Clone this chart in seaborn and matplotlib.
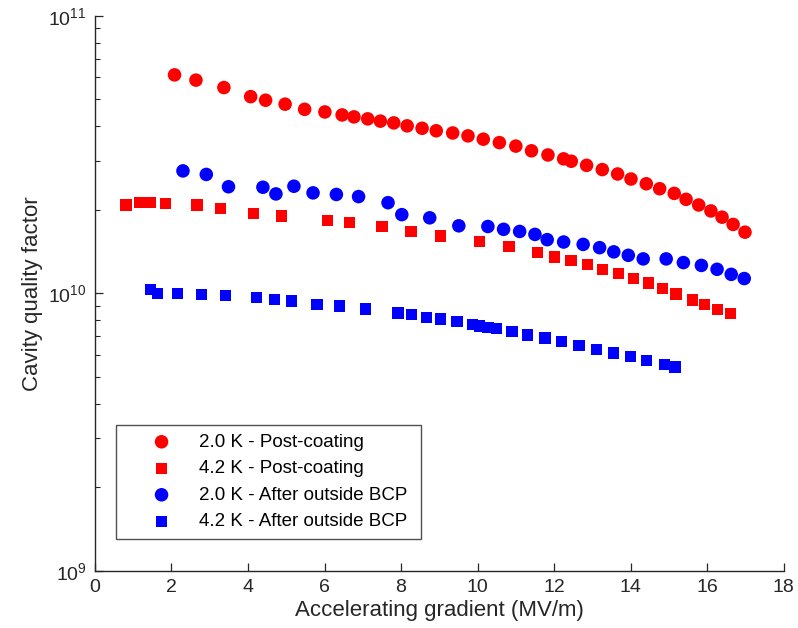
import numpy as np
import pandas as pd
import matplotlib
matplotlib.use('Agg')
import matplotlib.pyplot as plt
import seaborn as sns

# 2.0 K - Post-coating (red circles)
e_20_post = [2.08, 2.64, 3.37, 4.07, 4.46, 4.97, 5.48, 6.01, 6.46, 6.77, 7.13, 7.46, 7.81,
             8.16, 8.55, 8.92, 9.35, 9.75, 10.15, 10.57, 11.00, 11.41, 11.84, 12.25, 12.45,
             12.85, 13.26, 13.66, 14.01, 14.41, 14.76, 15.14, 15.45, 15.78, 16.10, 16.39,
             16.68, 16.99]
q_20_post = [6.12e10, 5.86e10, 5.51e10, 5.11e10, 4.96e10, 4.80e10, 4.60e10, 4.50e10, 4.39e10,
             4.32e10, 4.25e10, 4.17e10, 4.11e10, 4.01e10, 3.93e10, 3.85e10, 3.78e10, 3.69e10,
             3.59e10, 3.49e10, 3.39e10, 3.26e10, 3.15e10, 3.05e10, 2.99e10, 2.89e10, 2.79e10,
             2.69e10, 2.58e10, 2.48e10, 2.38e10, 2.29e10, 2.18e10, 2.08e10, 1.98e10, 1.88e10,
             1.77e10, 1.66e10]

# 4.2 K - Post-coating (red squares)
e_42_post = [0.81, 1.17, 1.45, 1.84, 2.67, 3.28, 4.14, 4.88, 6.08, 6.66, 7.50, 8.26, 9.03,
             10.05, 10.82, 11.57, 12.01, 12.44, 12.88, 13.27, 13.68, 14.07, 14.46, 14.84,
             15.19, 15.61, 15.94, 16.27, 16.61]
q_42_post = [2.08e10, 2.12e10, 2.12e10, 2.10e10, 2.08e10, 2.02e10, 1.94e10, 1.90e10, 1.83e10,
             1.80e10, 1.74e10, 1.67e10, 1.61e10, 1.54e10, 1.47e10, 1.40e10, 1.35e10, 1.31e10,
             1.27e10, 1.22e10, 1.18e10, 1.13e10, 1.09e10, 1.04e10, 9.94e9, 9.46e9, 9.10e9,
             8.75e9, 8.47e9]

# 2.0 K - After outside BCP (blue circles)
e_20_bcp = [2.30, 2.91, 3.49, 4.39, 4.73, 5.20, 5.70, 6.31, 6.89, 7.66, 8.02, 8.75, 9.51,
            10.27, 10.68, 11.10, 11.50, 11.82, 12.25, 12.76, 13.19, 13.56, 13.94, 14.33,
            14.93, 15.38, 15.85, 16.26, 16.63, 16.97]
q_20_bcp = [2.76e10, 2.68e10, 2.42e10, 2.41e10, 2.28e10, 2.43e10, 2.30e10, 2.27e10, 2.23e10,
            2.12e10, 1.92e10, 1.87e10, 1.75e10, 1.74e10, 1.70e10, 1.67e10, 1.63e10, 1.56e10,
            1.53e10, 1.50e10, 1.46e10, 1.41e10, 1.37e10, 1.33e10, 1.33e10, 1.29e10, 1.26e10,
            1.22e10, 1.17e10, 1.13e10]

# 4.2 K - After outside BCP (blue squares)
e_42_bcp = [1.46, 1.64, 2.15, 2.78, 3.42, 4.22, 4.70, 5.14, 5.80, 6.40, 7.07, 7.92, 8.27,
            8.66, 9.04, 9.46, 9.86, 10.05, 10.27, 10.50, 10.90, 11.31, 11.76, 12.20, 12.65,
            13.10, 13.55, 13.99, 14.42, 14.88, 15.16]
q_42_bcp = [1.03e10, 1.00e10, 9.98e9, 9.89e9, 9.81e9, 9.65e9, 9.51e9, 9.38e9, 9.13e9, 9.00e9,
            8.78e9, 8.49e9, 8.38e9, 8.20e9, 8.08e9, 7.92e9, 7.70e9, 7.62e9, 7.55e9, 7.46e9,
            7.29e9, 7.07e9, 6.90e9, 6.69e9, 6.49e9, 6.26e9, 6.09e9, 5.91e9, 5.73e9, 5.53e9,
            5.42e9]

labels = ['2.0 K - Post-coating', '4.2 K - Post-coating',
          '2.0 K - After outside BCP', '4.2 K - After outside BCP']

sns.set_theme(style='ticks')
plt.rcParams['font.family'] = ['Liberation Sans', 'DejaVu Sans']
ink = '#262626'

fig = plt.figure(figsize=(7.98, 6.28), dpi=100)
ax = fig.add_axes([0.119, 0.091, 0.863, 0.884])

series = [
    (e_20_post, q_20_post, 'red', 'o', 95),
    (e_42_post, q_42_post, 'red', 's', 66),
    (e_20_bcp, q_20_bcp, 'blue', 'o', 95),
    (e_42_bcp, q_42_bcp, 'blue', 's', 66),
]
for (x, y, c, m, s), lab in zip(series, labels):
    sns.scatterplot(x=x, y=y, color=c, marker=m, s=s, linewidth=0,
                    edgecolor='none', label=lab, ax=ax)

ax.set_yscale('log')
ax.set_xlim(0, 18)
ax.set_ylim(1e9, 1e11)
ax.set_xticks(np.arange(0, 19, 2))
sns.despine(ax=ax)
for sp in ['left', 'bottom']:
    ax.spines[sp].set_color(ink)
    ax.spines[sp].set_linewidth(1.0)
ax.tick_params(axis='both', which='major', direction='in', length=6, width=0.9,
               colors=ink, labelsize=14, pad=6)
ax.tick_params(axis='y', which='minor', direction='in', length=3.5, width=0.8, colors=ink)
ax.set_xlabel('Accelerating gradient (MV/m)', fontsize=16, color=ink, labelpad=3)
ax.set_ylabel('Cavity quality factor', fontsize=16, color=ink, labelpad=4)

leg = ax.legend(loc='lower left', bbox_to_anchor=(0.030, 0.058, 0.443, 0.204),
                mode='expand', borderaxespad=0, fontsize=13.5, frameon=True,
                fancybox=False, edgecolor=ink, handlelength=4.0, handletextpad=0.0,
                borderpad=0.45, labelspacing=0.5, scatterpoints=1)
leg.get_frame().set_linewidth(1.0)
for t in leg.get_texts():
    t.set_color('black')

fig.savefig('out.png', dpi=100)
